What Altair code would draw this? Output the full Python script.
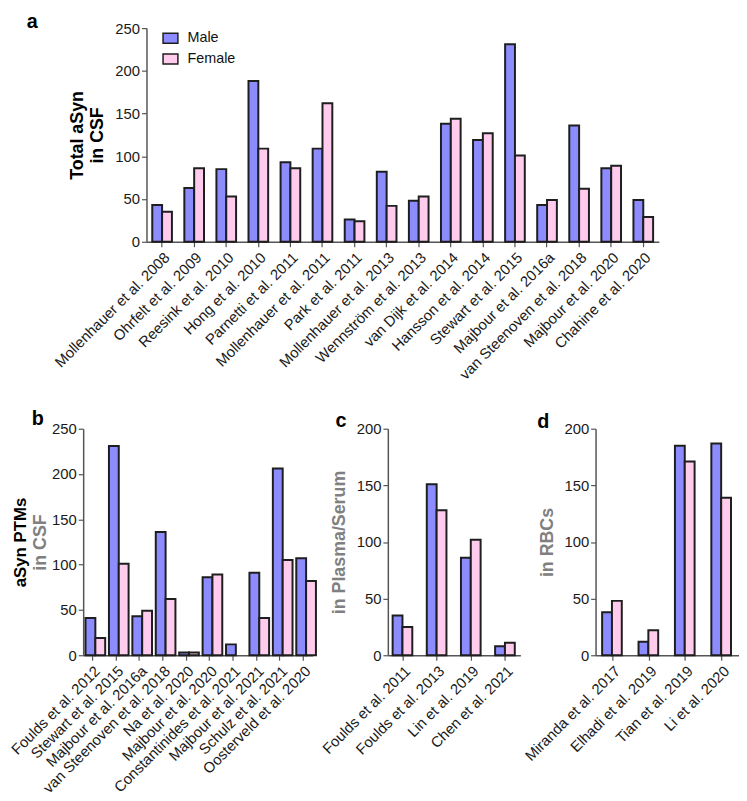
import altair as alt
import pandas as pd

FONT = "Liberation Sans"
sexes = ["Male", "Female"]
fill_colors = ["#8c8cff", "#ffccee"]

a_studies = ["Mollenhauer et al. 2008", "Ohrfelt et al. 2009", "Reesink et al. 2010", "Hong et al. 2010",
             "Parnetti et al. 2011", "Mollenhauer et al. 2011", "Park et al. 2011", "Mollenhauer et al. 2013",
             "Wennström et al. 2013", "van Dijk et al. 2014", "Hansson et al. 2014", "Stewart et al. 2015",
             "Majbour et al. 2016a", "van Steenoven et al. 2018", "Majbour et al. 2020", "Chahine et al. 2020"]
a_male = [43, 63, 85, 188, 93, 109, 26, 82, 48, 138, 119, 231, 43, 136, 86, 49]
a_female = [35, 86, 53, 109, 86, 162, 24, 42, 53, 144, 127, 101, 49, 62, 89, 29]

b_studies = ["Foulds et al. 2012", "Stewart et al. 2015", "Majbour et al. 2016a", "van Steenoven et al. 2018",
             "Na et al. 2020", "Majbour et al. 2020", "Constantinides et al. 2021", "Majbour et al. 2021",
             "Schulz et al. 2021", "Oosterveld et al. 2020"]
b_male = [41, 231, 43, 136, 3, 86, 12, 91, 206, 107]
b_female = [19, 101, 49, 62, 3, 89, None, 41, 105, 82]

c_studies = ["Foulds et al. 2011", "Foulds et al. 2013", "Lin et al. 2019", "Chen et al. 2021"]
c_male = [35, 151, 86, 8]
c_female = [25, 128, 102, 11]

d_studies = ["Miranda et al. 2017", "Elhadi et al. 2019", "Tian et al. 2019", "Li et al. 2020"]
d_male = [38, 12, 185, 187]
d_female = [48, 22, 171, 139]


def make_df(studies, male, female):
    rows = []
    for s, m, f in zip(studies, male, female):
        if m is not None:
            rows.append({"study": s, "sex": "Male", "value": m})
        if f is not None:
            rows.append({"study": s, "sex": "Female", "value": f})
    return pd.DataFrame(rows)


def text_layer(txt, x, y, size=20, color="#000000", angle=0, align="left", baseline="alphabetic"):
    return alt.Chart(pd.DataFrame({"t": [txt]})).mark_text(
        font=FONT, fontSize=size, fontWeight="bold", color=color, angle=angle,
        align=align, baseline=baseline
    ).encode(x=alt.value(x), y=alt.value(y), text="t:N")


def panel(studies, male, female, ymax, width, height, pi, po, ytitle, tcolor, legend, extras, tpad=8):
    df = make_df(studies, male, female)
    bars = alt.Chart(df).mark_bar(stroke="#1e1e1e", strokeWidth=2).encode(
        x=alt.X("study:N", sort=studies,
                scale=alt.Scale(paddingInner=pi, paddingOuter=po),
                axis=alt.Axis(title=None, labelAngle=-45, labelPadding=3, labelFontSize=15)),
        xOffset=alt.XOffset("sex:N", sort=sexes, scale=alt.Scale(paddingInner=0, paddingOuter=0)),
        y=alt.Y("value:Q", scale=alt.Scale(domain=[0, ymax], nice=False),
                axis=alt.Axis(values=list(range(0, ymax + 1, 50)), title=ytitle,
                              titleColor=tcolor, titlePadding=tpad, titleLineHeight=21)),
        color=alt.Color("sex:N", scale=alt.Scale(domain=sexes, range=fill_colors), legend=legend),
    )
    return alt.layer(bars, *extras).properties(width=width, height=height)


legend_a = alt.Legend(orient="none", legendX=17, legendY=3, title=None,
                      symbolType="M-1.5,-1H1.5V1H-1.5Z", symbolSize=100,
                      symbolStrokeColor="#1e1e1e", symbolStrokeWidth=1.5, symbolOpacity=1,
                      labelFont=FONT, labelFontSize=14.5, labelColor="#111111",
                      labelOffset=10, rowPadding=4)

pa = panel(a_studies, a_male, a_female, 250, 518, 216, 0.387, 0.18,
           ["Total aSyn", "in CSF"], "#000000", legend_a,
           [text_layer("a", -121, 0)])
pb = panel(b_studies, b_male, b_female, 250, 232, 229, 0.4, 0.1,
           "in CSF", "#808080", None,
           [text_layer("b", -52, -4),
            text_layer("aSyn PTMs", -63, 115, size=17, angle=270, align="center", baseline="middle")],
           tpad=2)
pc = panel(c_studies, c_male, c_female, 200, 134, 229, 0.4, 0.14,
           "in Plasma/Serum", "#808080", None,
           [text_layer("c", -53, -2)])
pd_ = panel(d_studies, d_male, d_female, 200, 145, 229, 0.42, 0.18,
            "in RBCs", "#808080", None,
            [text_layer("d", -59, -1)])

spacer = alt.Chart(pd.DataFrame({"v": [0]})).mark_point(opacity=0).properties(width=64, height=216)

top = alt.hconcat(spacer, pa, spacing=0, bounds="flush").resolve_scale(color="independent").resolve_legend(color="independent")
bottom = alt.hconcat(pb, pc, pd_, spacing=76, bounds="flush").resolve_scale(color="independent").resolve_legend(color="independent")

chart = alt.vconcat(top, bottom, spacing=405, bounds="flush").resolve_scale(
    color="independent").resolve_legend(color="independent").properties(
    padding=0, background="white"
).configure_view(stroke=None).configure_axis(
    labelFont=FONT, labelFontSize=15, labelColor="#1a1a1a",
    titleFont=FONT, titleFontSize=18, titleFontWeight="bold",
    domainColor="#555555", domainWidth=1.5, tickColor="#555555", tickWidth=1.2, tickSize=5,
    grid=False
)

chart.save("out.html", embed_options={"renderer": "svg", "actions": False})
